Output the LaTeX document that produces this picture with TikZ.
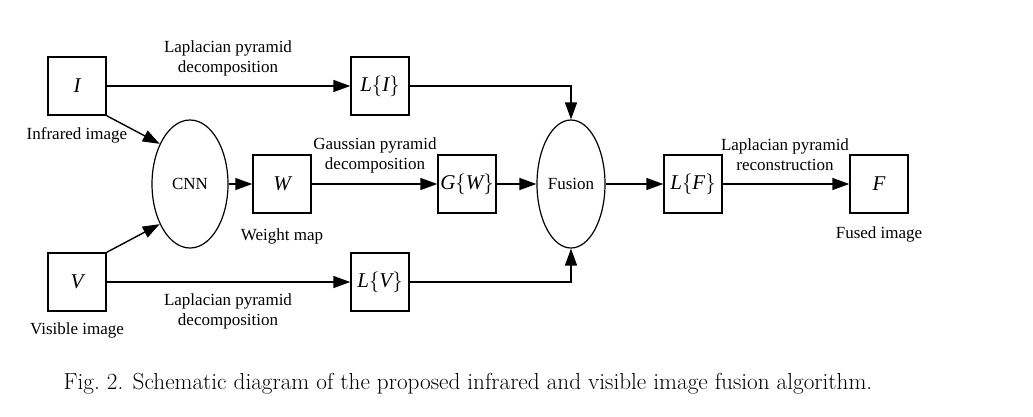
\documentclass[tikz,border=0pt]{standalone}
\usepackage{fontspec}
\newfontfamily\tnr{Liberation Serif}
\usetikzlibrary{arrows.meta,shapes.geometric}
\begin{document}
\begin{tikzpicture}[x=1pt,y=-1pt,
 box/.style={draw,line width=1.4pt,minimum width=58pt,minimum height=58pt,inner sep=0pt,font=\fontsize{21}{25}\selectfont\tnr\itshape},
 oval/.style={draw,ellipse,line width=1.2pt,minimum width=76pt,minimum height=128pt,inner sep=0pt,font=\fontsize{17}{20}\selectfont\tnr},
 lbl/.style={font=\fontsize{17}{20}\selectfont\tnr,align=center,inner sep=0pt},
 arr/.style={line width=1.4pt,-{Triangle[length=17pt,width=12pt]}},
]
\useasboundingbox (0,0) rectangle (1033,416);
\node[box] (I) at (77,86) {I};
\node[box] (V) at (77,282) {V};
\node[oval] (cnn) at (190,184) {CNN};
\node[box] (W) at (282,184) {W};
\node[box] (GW) at (467,184) {G$\{$W$\}$};
\node[box] (LI) at (380,86) {L$\{$I$\}$};
\node[box] (LV) at (380,282) {L$\{$V$\}$};
\node[oval,minimum width=68pt] (fus) at (571,184) {Fusion};
\node[box] (LF) at (693,184) {L$\{$F$\}$};
\node[box] (F) at (879,184) {F};
\node[lbl] (t1) at (228,58) {Laplacian pyramid\\decomposition};
\node[lbl] (t2) at (228,311) {Laplacian pyramid\\decomposition};
\node[lbl] (t3) at (375,155) {Gaussian pyramid\\decomposition};
\node[lbl] (t4) at (785,155) {Laplacian pyramid\\reconstruction};
\node[lbl] (l1) at (77,135) {Infrared image};
\node[lbl] (l2) at (77,330) {Visible image};
\node[lbl] (l3) at (282,236) {Weight map};
\node[lbl] (l4) at (879,234) {Fused image};
\node[inner sep=0pt,font=\fontsize{23.2}{28}\selectfont] (cap) at (468,384) {Fig.~2. Schematic diagram of the proposed infrared and visible image fusion algorithm.};
\draw[arr] (I) -- (LI);
\draw[arr] (V) -- (LV);
\draw[arr] (I.south east) -- (cnn.127);
\draw[arr] (V.north east) -- (cnn.233);
\draw[arr] (cnn) -- (W);
\draw[arr] (W) -- (GW);
\draw[arr] (GW) -- (fus);
\draw[arr] (LI) -| (fus.north);
\draw[arr] (LV) -| (fus.south);
\draw[arr] (fus) -- (LF);
\draw[arr] (LF) -- (F);
\end{tikzpicture}
\end{document}
